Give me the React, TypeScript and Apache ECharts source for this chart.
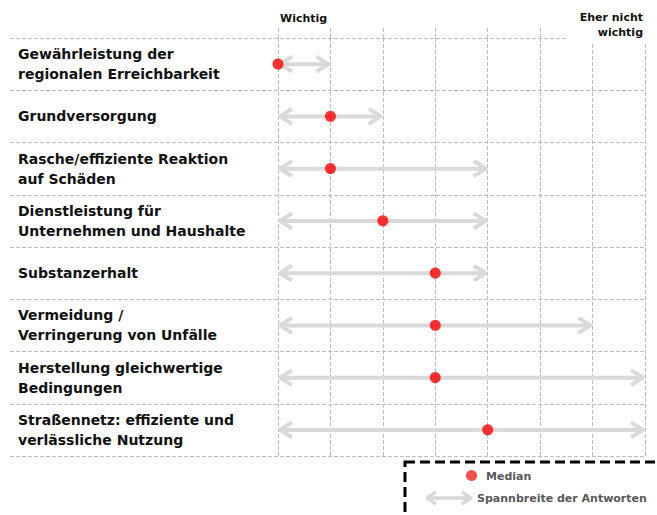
import React, { useEffect, useRef } from "react";
import * as echarts from "echarts";

const categories = [
  "Gewährleistung der\nregionalen Erreichbarkeit",
  "Grundversorgung",
  "Rasche/effiziente Reaktion\nauf Schäden",
  "Dienstleistung für\nUnternehmen und Haushalte",
  "Substanzerhalt",
  "Vermeidung /\nVerringerung von Unfälle",
  "Herstellung gleichwertige\nBedingungen",
  "Straßennetz: effiziente und\nverlässliche Nutzung",
];
const rangeMin = [1, 1, 1, 1, 1, 1, 1, 1];
const rangeMax = [2, 3, 5, 5, 5, 7, 8, 8];
const medianValues = [1, 2, 2, 3, 4, 4, 4, 5];
const scaleMin = 1;
const scaleMax = 8;
const headerLeft = "Wichtig";
const headerRight = "Eher nicht\nwichtig";
const legendMedian = "Median";
const legendRange = "Spannbreite der Antworten";

const FONT = "'DejaVu Sans', sans-serif";
const ARROW = "#d9d9d9";
const GRIDC = "#bfbfbf";

function arrowShapes(x1: number, x2: number, y: number, lw: number, len: number, half: number) {
  const st = { stroke: ARROW, lineWidth: lw, fill: "none", lineJoin: "round", lineCap: "butt" };
  return [
    { type: "line", shape: { x1: x1 + 2, y1: y, x2: x2 - 2, y2: y }, style: { stroke: ARROW, lineWidth: lw } },
    { type: "polyline", shape: { points: [[x1 + len, y - half], [x1 + 2, y], [x1 + len, y + half]] }, style: st },
    { type: "polyline", shape: { points: [[x2 - len, y - half], [x2 - 2, y], [x2 - len, y + half]] }, style: st },
  ];
}

export default function App() {
  const ref = useRef<HTMLDivElement>(null);
  useEffect(() => {
    if (!ref.current) return;
    const chart = echarts.init(ref.current, undefined, { renderer: "svg" });
    const gridTop = 38;
    const gridHeight = 418;
    const rangeData = categories.map((_, i) => [i, rangeMin[i], rangeMax[i]]);
    const medData = categories.map((_, i) => [medianValues[i], i]);
    chart.setOption({
      animation: false,
      textStyle: { fontFamily: FONT },
      grid: [
        { left: 10, right: 12, top: gridTop, height: gridHeight },
        { left: 278, right: 12, top: gridTop, height: gridHeight },
      ],
      xAxis: [
        { gridIndex: 0, type: "value", min: 0, max: 1, show: false },
        {
          gridIndex: 1,
          type: "value",
          min: scaleMin,
          max: scaleMax,
          interval: 1,
          position: "top",
          axisLine: { show: false },
          axisLabel: { show: false },
          axisTick: { show: true, length: 11, lineStyle: { color: GRIDC, type: [4, 2], width: 1 } },
          splitLine: { show: true, lineStyle: { color: GRIDC, type: [4, 2], width: 1 } },
        },
      ],
      yAxis: [
        {
          gridIndex: 0,
          type: "category",
          inverse: true,
          data: categories,
          axisLine: { show: false },
          axisTick: { show: false },
          splitLine: { show: true, lineStyle: { color: GRIDC, type: [4, 2], width: 1 } },
          axisLabel: {
            inside: true,
            margin: 8,
            fontFamily: FONT,
            fontWeight: "bold",
            fontSize: 14,
            lineHeight: 20,
            color: "#111111",
          },
        },
        { gridIndex: 1, type: "category", inverse: true, data: categories, show: false },
      ],
      graphic: [
        { type: "rect", z: 50, shape: { x: 566, y: 0, width: 100, height: 42 }, style: { fill: "#ffffff" } },
        {
          type: "text",
          z: 60,
          x: 280,
          y: 18,
          style: { text: headerLeft, font: `bold 11px ${FONT}`, fill: "#111111", align: "left", verticalAlign: "middle" },
        },
        {
          type: "text",
          z: 60,
          x: 643,
          y: 10,
          style: {
            text: headerRight,
            font: `bold 11px ${FONT}`,
            lineHeight: 15,
            fill: "#111111",
            align: "right",
            verticalAlign: "top",
          },
        },
        {
          type: "rect",
          z: 60,
          shape: { x: 405, y: 462, width: 300, height: 100 },
          style: { fill: "none", stroke: "#000000", lineWidth: 3, lineDash: [10, 5] },
        },
        { type: "circle", z: 61, shape: { cx: 471.5, cy: 475.5, r: 5.5 }, style: { fill: "#f44f4f" } },
        {
          type: "text",
          z: 61,
          x: 486,
          y: 476,
          style: { text: legendMedian, font: `bold 11px ${FONT}`, fill: "#595959", align: "left", verticalAlign: "middle" },
        },
        { type: "group", z: 61, children: arrowShapes(425, 473, 498, 3.5, 11, 6) },
        {
          type: "text",
          z: 61,
          x: 477,
          y: 498,
          style: { text: legendRange, font: `bold 11px ${FONT}`, fill: "#595959", align: "left", verticalAlign: "middle" },
        },
      ],
      series: [
        {
          type: "custom",
          xAxisIndex: 1,
          yAxisIndex: 1,
          z: 3,
          encode: { x: [1, 2], y: 0 },
          data: rangeData,
          renderItem: (params: any, api: any) => {
            const row = api.value(0);
            const lo = api.coord([api.value(1), row]);
            const hi = api.coord([api.value(2), row]);
            return { type: "group", children: arrowShapes(lo[0], hi[0], lo[1], 4, 14, 7.5) };
          },
        },
        {
          type: "scatter",
          xAxisIndex: 1,
          yAxisIndex: 1,
          z: 5,
          symbol: "circle",
          symbolSize: 11,
          itemStyle: { color: "#ff0000" },
          data: medData,
        },
      ],
    });
    return () => chart.dispose();
  }, []);
  return <div ref={ref} style={{ position: "absolute", left: 0, top: 0, width: 657, height: 515 }} />;
}
